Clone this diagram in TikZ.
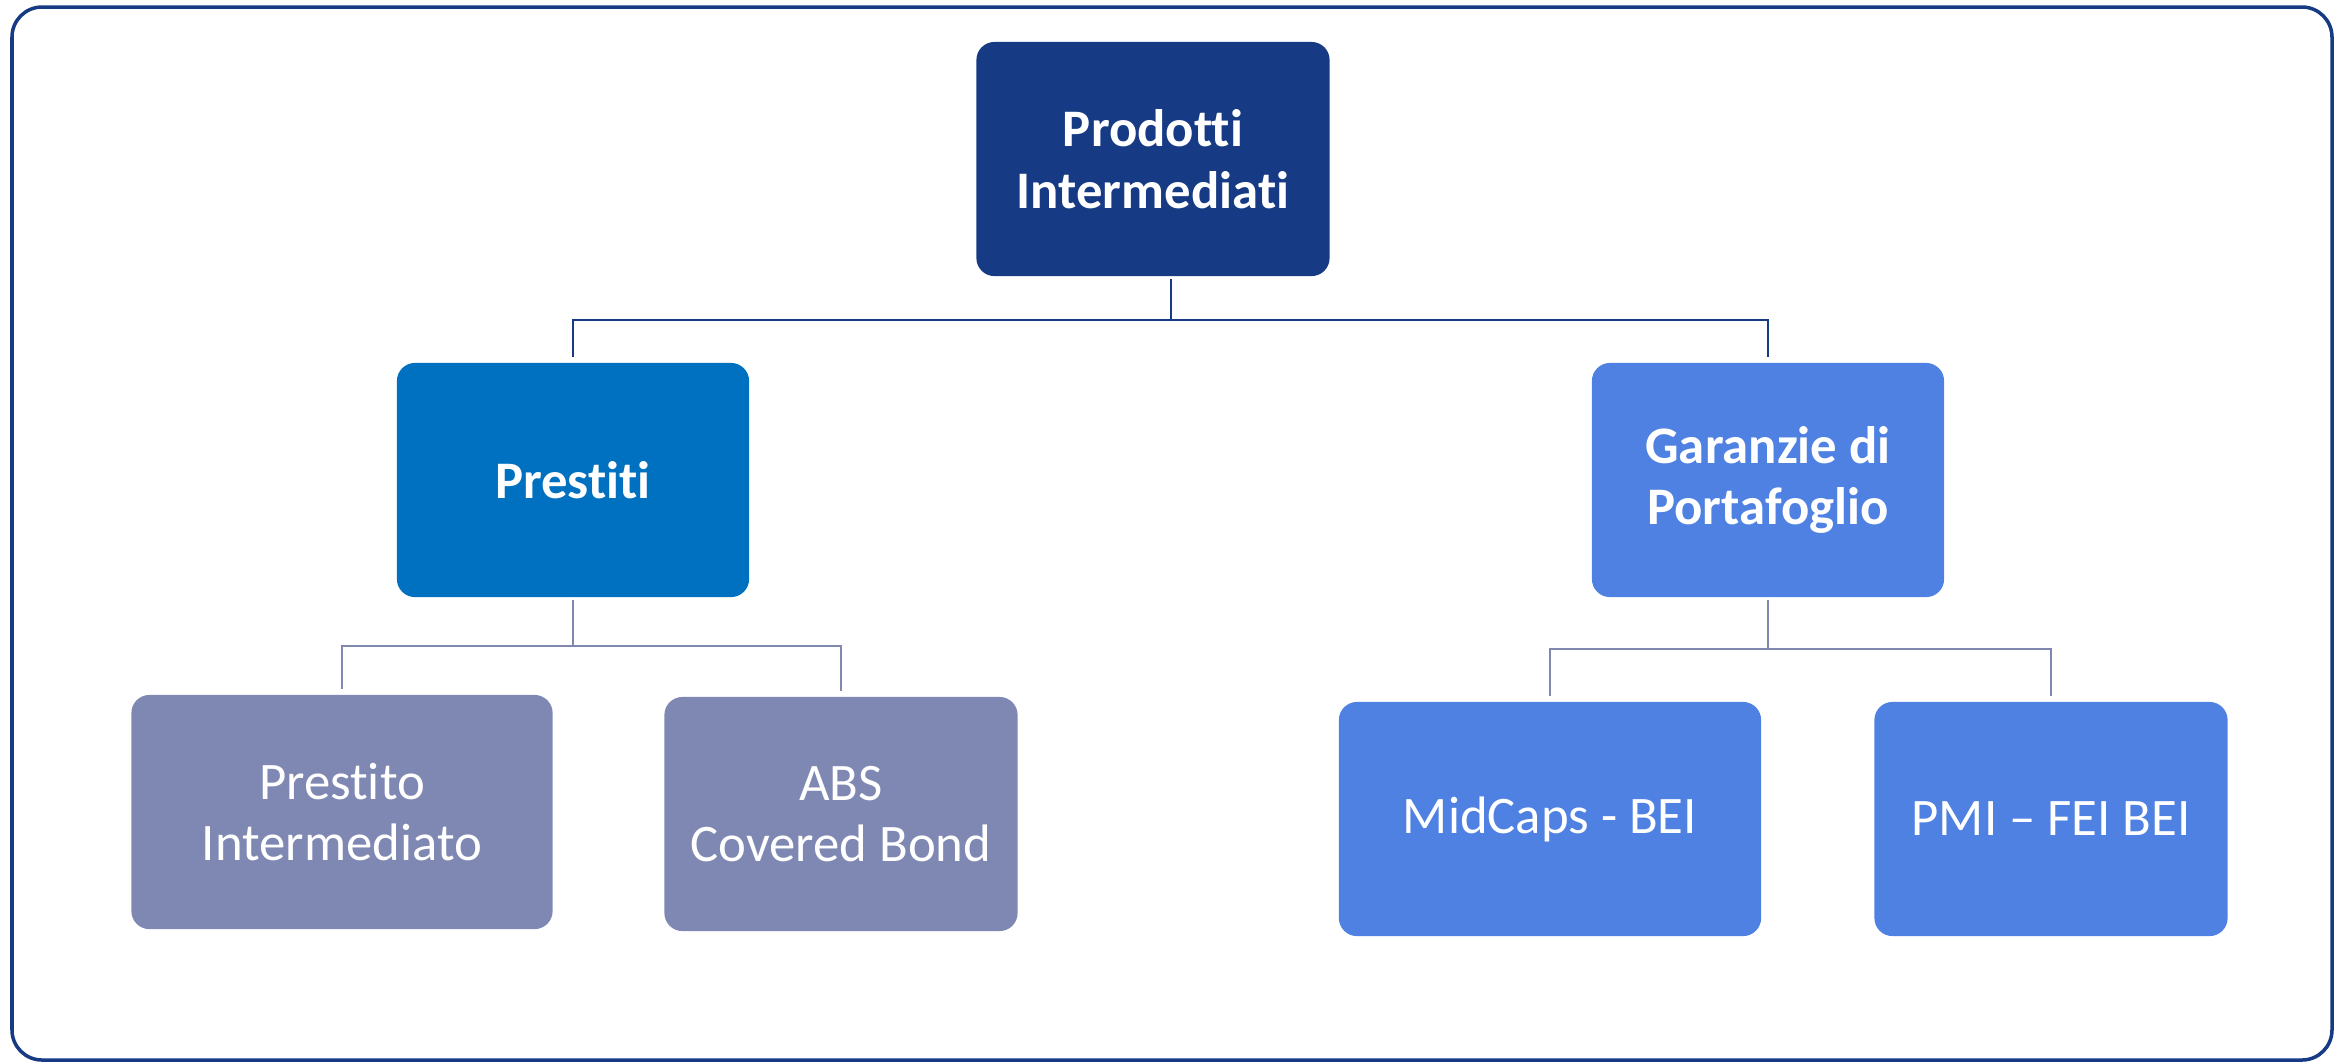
\documentclass[tikz,border=0pt]{standalone}
\usepackage{fontspec}
\setmainfont[Ligatures=NoCommon]{Carlito}
\usetikzlibrary{positioning}

\definecolor{navyprod}{HTML}{163A84}
\definecolor{bluprest}{HTML}{0070C0}
\definecolor{bluegar}{HTML}{4F81E2}
\definecolor{greyprest}{HTML}{7F88B2}
\definecolor{linkgrey}{HTML}{8088B0}

\begin{document}
\begin{tikzpicture}[x=0.01cm, y=-0.01cm,
    box/.style={rectangle, rounded corners=0.18cm, text=white, align=center,
        font=\fontsize{15}{17.5}\selectfont, inner sep=0pt},
    lvlzero/.style={box, fill=navyprod, font=\fontsize{15}{17.5}\selectfont\bfseries,
        minimum width=3.53cm, minimum height=2.34cm},
    lvlone/.style={box, font=\fontsize{15}{17.5}\selectfont\bfseries,
        minimum width=3.52cm, minimum height=2.34cm},
    lvltwo/.style={box, minimum height=2.34cm},
    toplink/.style={navyprod, line width=0.7pt, shorten >=1.4pt, shorten <=0.6pt},
    sublink/.style={linkgrey, line width=0.7pt, shorten >=1.4pt, shorten <=0.6pt}]
    \useasboundingbox (0,0) rectangle (2341,1062);
    \draw[navyprod, line width=1pt, rounded corners=0.3cm] (12,7) rectangle (2332,1060);

    \node[lvlzero] (prod) at (1153,159) {Prodotti\\Intermediati};
    \node[lvlone, fill=bluprest] (prest) at (573,480) {Prestiti};
    \node[lvlone, fill=bluegar] (garanz) at (1768,480) {Garanzie di\\Portafoglio};
    \node[lvltwo, fill=greyprest, minimum width=4.21cm] (prestint) at (342,812) {Prestito\\Intermediato};
    \node[lvltwo, fill=greyprest, minimum width=3.53cm] (abs) at (841,814) {ABS\\Covered Bond};
    \node[lvltwo, fill=bluegar, minimum width=4.22cm] (midcaps) at (1550,819) {MidCaps - BEI};
    \node[lvltwo, fill=bluegar, minimum width=3.53cm] (pmi) at (2051,819) {PMI – FEI BEI};

    \coordinate (prodfoot) at ([shift={(18,0)}]prod.south);
    \draw[toplink] (prodfoot) -- ++(0,43) -| (prest.north);
    \draw[toplink] (prodfoot) -- ++(0,43) -| (garanz.north);
    \draw[sublink] (prest.south) -- ++(0,48) -| (prestint.north);
    \draw[sublink] (prest.south) -- ++(0,48) -| (abs.north);
    \draw[sublink] (garanz.south) -- ++(0,51) -| (midcaps.north);
    \draw[sublink] (garanz.south) -- ++(0,51) -| (pmi.north);
\end{tikzpicture}
\end{document}
